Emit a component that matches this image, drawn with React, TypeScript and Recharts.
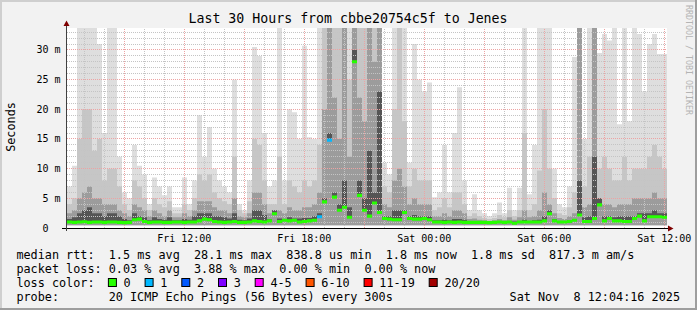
import React from 'react';
import { ComposedChart, Area, XAxis, YAxis, ReferenceLine } from 'recharts';

// one column every 15 minutes over 30 hours, first column starts Fri 06:08
const startHour = 6.135;
const stepHours = 0.25;
const smokeFloor = 0.45;

// smoke: top of each grey shade, in ms
const smokeMax = [
  7, 10.5, 33.7, 33.7, 33.7, 33.7, 31, 16, 33.7, 33.7,
  12, 6, 5, 14, 10.5, 9, 4, 8.5, 7, 5.5,
  7, 3.5, 3.5, 8.5, 4, 8, 19, 12, 17, 10,
  8, 7, 6, 25, 4, 3, 8, 30.5, 29, 16,
  7, 8, 33.7, 8, 20, 19.5, 15, 30.7, 15.3, 15,
  33.7, 33.7, 33.7, 33.7, 33.7, 33.7, 33.7, 33.7, 33.7, 33.7,
  33.7, 33.7, 33.7, 11, 9, 33.7, 33.7, 33.7, 11, 31,
  25, 23, 24.5, 5.2, 6, 14, 6, 16, 23.7, 8,
  3, 5.7, 3, 2.5, 2, 2.5, 4.3, 2.5, 6.8, 3,
  6.8, 33.7, 5.7, 14, 33.7, 33.7, 33.7, 10, 4, 3.5,
  7, 28.8, 33.7, 15, 33.7, 33.7, 29.5, 32.7, 31.6, 33.7,
  17.5, 33.7, 18, 33.7, 32.7, 23, 31, 32.7, 29.3, 29.3,
];
const smokeHi = [
  4, 5, 15, 20, 20, 13, 15, 8, 10, 10,
  7, 4, 3, 8, 7, 5, 3, 5, 4, 3.5,
  4.5, 2.5, 2.5, 4, 3, 5, 9, 8, 9, 6,
  5, 4.5, 4, 12, 3, 2.5, 4.5, 15, 14, 8,
  4, 4, 12, 4, 8, 7, 6, 8, 7, 8,
  14, 33.7, 33.7, 33.7, 33.7, 33.7, 25, 33.7, 33.7, 33.7,
  33.7, 33.7, 33.7, 7, 6, 20, 33.7, 18, 7, 10,
  8, 8, 8, 3, 3.5, 5, 3.5, 6, 6, 4,
  2, 2.5, 2, 1.7, 1.5, 1.7, 2.2, 1.8, 3, 2,
  3, 16, 3, 4, 9.7, 20, 10, 5, 2.5, 2.2,
  3.5, 6, 33.7, 7, 12, 33.7, 10, 12, 10, 8,
  8, 12, 8, 10, 10, 10, 12, 14, 12, 10,
];
const smokeMid = [
  2.5, 3, 5, 6, 7, 5, 5, 4, 4, 4,
  3, 2.5, 2, 4, 3.5, 3, 2, 3, 2.5, 2,
  3, 1.8, 1.8, 2.5, 2, 3, 4.5, 4.5, 4.5, 3.5,
  3, 3, 2.5, 5, 2, 1.8, 2.5, 6, 6, 4,
  2.5, 3, 3, 2.5, 3.5, 3, 3, 3.5, 3.5, 4,
  6, 20, 33.7, 22, 15, 33.7, 12, 33.7, 22, 18,
  33.7, 28, 33.7, 4, 3.5, 8, 10, 7, 4, 5,
  4, 4, 4, 2, 2, 2.5, 2, 3, 3, 2.5,
  1.5, 1.6, 1.4, 1.3, 1.2, 1.3, 1.5, 1.3, 1.8, 1.4,
  1.8, 3, 1.8, 2, 3, 6, 4, 2.5, 1.7, 1.5,
  2, 2.5, 33.7, 3.5, 4, 33.7, 5, 4, 4, 3.5,
  4, 4, 4, 5, 5, 5, 5, 6, 5, 5,
];
const smokeDark = [
  1.5, 1.8, 2.5, 3, 3.5, 2.5, 2.5, 2, 2.5, 2.5,
  2, 1.5, 1.3, 2.5, 2, 1.8, 1.3, 1.8, 1.5, 1.4,
  1.8, 1.3, 1.3, 1.5, 1.4, 2, 2.5, 2.5, 2.5, 2,
  2, 1.8, 1.6, 2.5, 1.4, 1.3, 1.6, 3, 3, 2.2,
  1.5, 3, 1.6, 1.5, 1.8, 1.6, 1.6, 1.7, 1.7, 2,
  2.5, 5, 16, 6, 4, 8, 3.5, 30, 8, 5,
  13, 6, 23, 2, 2, 3, 3, 3, 2, 2.2,
  2, 2, 2, 1.3, 1.3, 1.4, 1.3, 1.5, 1.5, 1.4,
  1.2, 1.2, 1.1, 1.1, 1.05, 1.1, 1.1, 1.1, 1.2, 1.1,
  1.2, 1.4, 1.2, 1.3, 1.4, 2, 3, 1.5, 1.2, 1.1,
  1.3, 1.4, 8, 1.8, 2, 12, 5, 2, 2, 1.8,
  2, 2, 2, 2, 2.5, 2.5, 2.5, 3, 2.5, 2.5,
];
const medianRtt = [
  1.0, 0.95, 1.0, 1.05, 0.95, 1.0, 1.0, 0.95, 1.0, 1.0,
  0.95, 0.9, 0.95, 1.4, 1.5, 1.1, 0.95, 1.0, 1.0, 0.95,
  0.95, 1.0, 1.0, 0.95, 1.0, 1.0, 1.2, 1.5, 1.4, 1.1,
  1.0, 0.95, 1.0, 1.1, 0.95, 0.95, 1.0, 1.2, 1.1, 1.0,
  1.2, 2.4, 1.1, 1.3, 1.2, 1.3, 1.0, 1.1, 1.2, 1.3,
  1.9, 4.4, 14.8, 5.2, 3, 3.5, 1.8, 28, 5.5, 3,
  2, 4.2, 2.6, 1.6, 1.5, 1.4, 1.4, 2.6, 1.6, 1.5,
  1.5, 1.6, 1.4, 1.0, 1.0, 0.95, 1.0, 0.95, 1.0, 0.95,
  0.95, 0.95, 0.95, 0.95, 0.9, 0.95, 1.0, 0.95, 1.0, 0.8,
  1.0, 1.0, 1.0, 1.0, 1.0, 1.2, 2.4, 1.2, 1.0, 1.0,
  1.1, 1.3, 2.2, 1.1, 1.1, 1.6, 3.9, 1.2, 1.6, 1.2,
  1.2, 1.1, 1.1, 1.6, 2.0, 1.2, 1.9, 1.9, 1.9, 1.8,
];
// [column, lost pings]
const lostPings: [number, number][] = [[50, 1], [52, 1]];

const xTicks = [12, 18, 24, 30, 36];
const xTickLabels = ['Fri 12:00', 'Fri 18:00', 'Sat 00:00', 'Sat 06:00', 'Sat 12:00'];
const yTicks = [0, 5, 10, 15, 20, 25, 30];
const yTickLabels = ['0  ', '5 m', '10 m', '15 m', '20 m', '25 m', '30 m'];

const lossLegend = [
  { label: '0', color: '#26ff00' },
  { label: '1', color: '#00b8ff' },
  { label: '2', color: '#0059ff' },
  { label: '3', color: '#7e00ff' },
  { label: '4-5', color: '#ff00ff' },
  { label: '6-10', color: '#ff5500' },
  { label: '11-19', color: '#ff0000' },
  { label: '20/20', color: '#a10000' },
];

const titleText = 'Last 30 Hours from cbbe20754c5f to Jenes';
const medianLine = 'median rtt:  1.5 ms avg  28.1 ms max  838.8 us min  1.8 ms now  1.8 ms sd  817.3 m am/s';
const lossLine = 'packet loss: 0.03 % avg  3.88 % max  0.00 % min  0.00 % now';
const probeText = '20 ICMP Echo Pings (56 Bytes) every 300s';
const stampText = 'Sat Nov  8 12:04:16 2025';

const W = 697;
const H = 310;
const mono = '"DejaVu Sans Mono", monospace';
const yMax = 33.7;
const xDomain = [startHour, startHour + 30];
const medHalf = 0.26;
const charW = 7.1;
const plotMargin = { top: 28, right: 30, bottom: 82, left: 67 };

const lossByCol = new Map(lostPings);
const rows: any[] = [];
smokeMax.forEach((max, i) => {
  const lost = lossByCol.get(i) ?? 0;
  const med = medianRtt[i];
  const band = [med - medHalf, med + medHalf];
  const cells = {
    s1: [smokeFloor, max],
    s2: [smokeFloor, smokeHi[i]],
    s3: [smokeFloor, smokeMid[i]],
    s4: [med, smokeDark[i]],
    m0: lost === 0 ? band : null,
    m1: lost === 1 ? band : null,
  };
  rows.push({ t: startHour + i * stepHours, ...cells });
  rows.push({ t: startHour + (i + 1) * stepHours, ...cells });
});

const hMinor: number[] = [];
const hMajor: number[] = [];
for (let v = 1; v <= 33; v++) (v % 5 === 0 ? hMajor : hMinor).push(v);
const vMinor: number[] = [];
const vMajor: number[] = [];
for (let h = 7; h <= 36; h++) (h % 3 === 0 ? vMajor : vMinor).push(h);

const XTick = (props: any) => {
  const { x, payload } = props;
  const label = xTickLabels[xTicks.indexOf(payload.value)];
  return (
    <text x={x} y={241.5} textAnchor="middle" fontFamily={mono} fontSize={10} fill="#000">
      {label}
    </text>
  );
};

const YTick = (props: any) => {
  const { y, payload } = props;
  const label = yTickLabels[yTicks.indexOf(payload.value)];
  return (
    <text x={60.5} y={y + 3.5} textAnchor="end" fontFamily={mono} fontSize={10} fill="#000"
      xmlSpace="preserve" style={{ whiteSpace: 'pre' }}>
      {label}
    </text>
  );
};

const snap = (v: number) => Math.floor(v) + 0.5;
const gridShape = (color: string) => (p: any) => {
  const vertical = Math.abs(p.x1 - p.x2) < 0.01;
  const x1 = vertical ? snap(p.x1) : p.x1;
  const x2 = vertical ? snap(p.x2) : p.x2;
  const y1 = vertical ? p.y1 : snap(p.y1);
  const y2 = vertical ? p.y2 : snap(p.y2);
  return <line x1={x1} y1={y1} x2={x2} y2={y2} stroke={color} strokeWidth={1} strokeDasharray="1 1" />;
};
const minorGrid = gridShape('#c4c4c4');
const majorGrid = gridShape('#eda3a3');

const smokeArea = (key: string, color: string) => (
  <Area key={key} dataKey={key} type="linear" stroke="none" fill={color} fillOpacity={1}
    isAnimationActive={false} activeDot={false} dot={false} />
);

const hiddenAxes = [
  <XAxis key="x" dataKey="t" type="number" domain={xDomain} hide allowDataOverflow />,
  <YAxis key="y" type="number" domain={[0, yMax]} hide allowDataOverflow />,
];

const layer = { position: 'absolute' as const, left: 0, top: 0 };

const Legend = () => {
  let x = 108.4;
  const items = lossLegend.map((it) => {
    const el = (
      <g key={it.label}>
        <rect x={x} y={278.5} width={8} height={8} fill={it.color} stroke="#000" strokeWidth={1} />
        <text x={x + 15.2} y={286.5} fontFamily={mono} fontSize={11.8}>{it.label}</text>
      </g>
    );
    x += 15.2 + it.label.length * charW + 14.4;
    return el;
  });
  return <g>{items}</g>;
};

export default function App() {
  const pre = { whiteSpace: 'pre' as const };
  return (
    <div style={{ position: 'absolute', left: 0, top: 0, width: W, height: H, background: '#f2f2f2', overflow: 'hidden' }}>
      <div style={{ position: 'absolute', left: 67, top: 28, width: 600, height: 200, background: '#fff' }} />
      {/* smoke with tick labels */}
      <div style={layer}>
        <ComposedChart width={W} height={H} data={rows} margin={{ top: 28, right: 30, bottom: 0, left: 0 }}>
          <XAxis dataKey="t" type="number" domain={xDomain} ticks={xTicks} interval={0}
            tick={<XTick />} axisLine={false} tickLine={false} height={82} allowDataOverflow />
          <YAxis type="number" domain={[0, yMax]} ticks={yTicks} interval={0} tick={<YTick />}
            axisLine={false} tickLine={false} width={67} allowDataOverflow />
          {smokeArea('s1', '#dedede')}
          {smokeArea('s2', '#c6c6c6')}
          {smokeArea('s3', '#9c9c9c')}
          {smokeArea('s4', '#555555')}
        </ComposedChart>
      </div>
      {/* grid on top of the smoke */}
      <div style={layer}>
        <ComposedChart width={W} height={H} data={rows} margin={plotMargin}>
          {hiddenAxes}
          {hMinor.map((v) => <ReferenceLine key={'hm' + v} y={v} shape={minorGrid} />)}
          {vMinor.map((h) => <ReferenceLine key={'vm' + h} x={h} shape={minorGrid} />)}
          {hMajor.map((v) => <ReferenceLine key={'hM' + v} y={v} shape={majorGrid} />)}
          {vMajor.map((h) => <ReferenceLine key={'vM' + h} x={h} shape={majorGrid} />)}
        </ComposedChart>
      </div>
      {/* median rtt coloured by loss */}
      <div style={layer}>
        <ComposedChart width={W} height={H} data={rows} margin={plotMargin}>
          {hiddenAxes}
          {smokeArea('m0', lossLegend[0].color)}
          {smokeArea('m1', lossLegend[1].color)}
        </ComposedChart>
      </div>
      <svg width={W} height={H} style={{ ...layer, pointerEvents: 'none' }}>
        {/* frame */}
        <rect x={0} y={0} width={W} height={2} fill="#cfcfcf" />
        <rect x={0} y={0} width={2} height={H} fill="#cfcfcf" />
        <rect x={W - 2} y={0} width={2} height={H} fill="#9e9e9e" />
        <rect x={0} y={H - 2} width={W} height={2} fill="#9e9e9e" />

        <text x={348} y={23} textAnchor="middle" fontFamily={mono} fontSize={13.25} fill="#000">{titleText}</text>
        <text transform="translate(688.5,5) rotate(90)" fontFamily={mono} fontSize={8.3} fill="#b4b4b4"
          dominantBaseline="central">RRDTOOL / TOBI OETIKER</text>
        <text transform="translate(11,127) rotate(-90)" textAnchor="middle" dominantBaseline="central"
          fontFamily={mono} fontSize={11.8} fill="#000">Seconds</text>

        {/* axes */}
        <line x1={62} y1={228.5} x2={668} y2={228.5} stroke="#000" strokeWidth={1} />
        <polygon points="668,225.5 673.5,228.5 668,231.5" fill="#7f0000" />
        <line x1={66.5} y1={231} x2={66.5} y2={26} stroke="#404040" strokeWidth={1} />
        <polygon points="63.5,26 66.5,20.5 69.5,26" fill="#7f0000" />

        {/* legend */}
        <g fontFamily={mono} fontSize={11.8} fill="#000">
          <text x={16.4} y={258.5} xmlSpace="preserve" style={pre}>{medianLine}</text>
          <text x={16.4} y={272.5} xmlSpace="preserve" style={pre}>{lossLine}</text>
          <text x={16.4} y={286.5}>loss color:</text>
          <Legend />
          <text x={16.4} y={300.5}>probe:</text>
          <text x={108.7} y={300.5}>{probeText}</text>
          <text x={680} y={300.5} textAnchor="end" xmlSpace="preserve" style={pre}>{stampText}</text>
        </g>
      </svg>
    </div>
  );
}
